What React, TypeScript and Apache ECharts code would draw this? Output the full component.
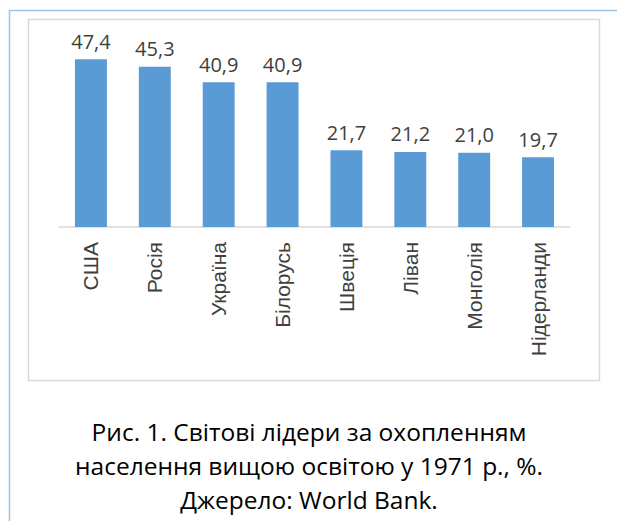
import React, { useEffect, useRef } from "react";
import * as echarts from "echarts";

const categories = ["США", "Росія", "Україна", "Білорусь", "Швеція", "Ліван", "Монголія", "Нідерланди"];
const values = [47.4, 45.3, 40.9, 40.9, 21.7, 21.2, 21.0, 19.7];
const captionLines = [
  "Рис. 1. Світові лідери за охопленням",
  "населення вищою освітою у 1971 р., %.",
  "Джерело: World Bank.",
];

export default function App() {
  const ref = useRef<HTMLDivElement>(null);
  useEffect(() => {
    if (!ref.current) return;
    const chart = echarts.init(ref.current, null, { renderer: "svg" });
    chart.setOption({
      animation: false,
      backgroundColor: "#ffffff",
      grid: { left: 59, right: 47, top: 50, bottom: 294, containLabel: false },
      xAxis: {
        type: "category",
        data: categories,
        axisLine: { lineStyle: { color: "#D9D9D9", width: 1.5 } },
        axisTick: { show: false },
        axisLabel: {
          rotate: 90,
          interval: 0,
          margin: 15,
          fontFamily: "Liberation Sans, Arial, sans-serif",
          fontSize: 21,
          color: "#404040",
        },
      },
      yAxis: {
        type: "value",
        min: 0,
        max: 50,
        show: false,
        splitLine: { show: false },
      },
      series: [
        {
          type: "bar",
          data: values,
          barWidth: "50%",
          itemStyle: { color: "#5B9BD5" },
          label: {
            show: true,
            position: "top",
            distance: 8,
            fontFamily: "Open Sans, sans-serif",
            fontSize: 20,
            color: "#404040",
            formatter: (p: any) => p.value.toFixed(1).replace(".", ","),
          },
        },
      ],
      graphic: [
        {
          type: "polyline",
          silent: true,
          shape: { points: [[9.5, 521], [9.5, 10.5], [617, 10.5]] },
          style: { stroke: "#9DC3E6", lineWidth: 1.5, fill: "none" },
        },
        {
          type: "rect",
          silent: true,
          shape: { x: 28.5, y: 19.5, width: 571, height: 361 },
          style: { stroke: "#D9D9D9", lineWidth: 1.5, fill: "none" },
        },
        ...captionLines.map((t, i) => ({
          type: "text",
          silent: true,
          x: 309,
          y: [431, 465, 499][i],
          style: {
            text: t,
            fontFamily: "Open Sans, sans-serif",
            fontSize: 24.5,
            fill: "#000000",
            align: "center",
            verticalAlign: "middle",
          },
        })),
      ],
    });
    return () => chart.dispose();
  }, []);
  return (
    <div
      ref={ref}
      style={{ position: "absolute", left: 0, top: 0, width: 617, height: 521 }}
    />
  );
}
